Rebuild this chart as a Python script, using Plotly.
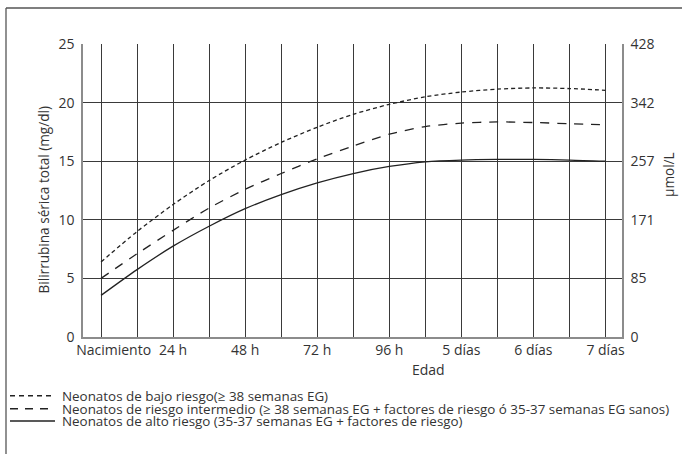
import plotly.graph_objects as go

# Age in hours after birth
hours = [0, 12, 24, 36, 48, 60, 72, 84, 96, 108, 120, 132, 144, 156, 168]

# Total serum bilirubin thresholds (mg/dl)
low_risk = [6.4, 9.0, 11.3, 13.35, 15.1, 16.6, 17.9, 19.0, 19.85, 20.5, 20.9, 21.15, 21.25, 21.2, 21.05]
medium_risk = [5.0, 7.1, 9.1, 11.0, 12.6, 13.95, 15.2, 16.3, 17.3, 17.95, 18.25, 18.35, 18.3, 18.2, 18.1]
high_risk = [3.55, 5.75, 7.75, 9.45, 10.95, 12.15, 13.15, 13.95, 14.55, 14.95, 15.1, 15.15, 15.15, 15.1, 15.0]

legend_labels = [
    "Neonatos de bajo riesgo(≥ 38 semanas EG)",
    "Neonatos de riesgo intermedio (≥ 38 semanas EG + factores de riesgo ó 35-37 semanas EG sanos)",
    "Neonatos de alto riesgo (35-37 semanas EG + factores de riesgo)",
]

x_tick_vals = [4.2, 24, 48, 72, 96, 120, 144, 168]
x_tick_text = ["Nacimiento", "24 h", "48 h", "72 h", "96 h", "5 días", "6 días", "7 días"]
y_tick_vals = [0, 5, 10, 15, 20, 25]
umol_tick_text = ["0", "85", "171", "257", "342", "428"]

W, H = 682, 454
ML, MR, MT, MB = 83, 60, 44, 117
PW, PH = W - ML - MR, H - MT - MB

FONT = "Open Sans"
TXT = "#333333"
GRID = "#3a3a3a"
AXIS = "#8c8c8c"
CURVE = "#222222"


def px(xp):
    return (xp - ML) / PW


def py(yp):
    return (H - MB - yp) / PH


fig = go.Figure()
styles = [("4px,3px", low_risk), ("9px,8px", medium_risk), ("solid", high_risk)]
for (dash, vals), name in zip(styles, legend_labels):
    fig.add_trace(go.Scatter(
        x=hours, y=vals, mode="lines", name=name, showlegend=False,
        line=dict(color=CURVE, width=1.3, dash=dash, shape="spline", smoothing=0.8),
    ))

# invisible trace to activate the secondary axes
fig.add_trace(go.Scatter(x=[hours[0]], y=[0], xaxis="x2", yaxis="y2",
                         mode="markers", marker=dict(opacity=0), showlegend=False, hoverinfo="skip"))

fig.update_layout(
    width=W, height=H,
    margin=dict(l=ML, r=MR, t=MT, b=MB),
    paper_bgcolor="white", plot_bgcolor="white",
    font=dict(family=FONT, color=TXT, size=14),
    xaxis=dict(range=[-6, 173.5], tick0=0, dtick=12, showticklabels=False, ticks="",
               showgrid=True, gridcolor=GRID, gridwidth=1, zeroline=False,
               showline=True, linecolor=AXIS, linewidth=1.5),
    xaxis2=dict(range=[-6, 173.5], overlaying="x", side="bottom", tickmode="array",
                tickvals=x_tick_vals, ticktext=x_tick_text, ticks="", showgrid=False,
                zeroline=False, showline=False, ticklabelstandoff=3,
                tickfont=dict(size=14, color=TXT)),
    yaxis=dict(range=[0, 25], tickmode="array", tickvals=y_tick_vals, ticks="",
               showgrid=True, gridcolor=GRID, gridwidth=1, zeroline=False,
               showline=True, linecolor=AXIS, linewidth=1.5, ticklabelstandoff=4,
               tickfont=dict(size=14, color=TXT)),
    yaxis2=dict(range=[0, 25], overlaying="y", side="right", tickmode="array",
                tickvals=y_tick_vals, ticktext=umol_tick_text, ticks="", showgrid=False,
                zeroline=False, showline=True, linecolor=AXIS, linewidth=1.5,
                ticklabelstandoff=4, tickfont=dict(size=14, color=TXT)),
)

annotations = [
    dict(text="Edad", x=px(428), y=py(370), xanchor="center", yanchor="middle",
         font=dict(size=14)),
    dict(text="Bilirrubina sérica total (mg/dl)", x=px(43), y=py(199.5), textangle=-90,
         xanchor="center", yanchor="middle", font=dict(size=13.6)),
    dict(text="µmol/L", x=px(668), y=py(175), textangle=-90,
         xanchor="center", yanchor="middle", font=dict(size=13.6)),
]
shapes = [
    # outer frame (left and top edges)
    dict(type="line", xref="paper", yref="paper", x0=px(6), x1=px(6), y0=py(460), y1=py(8),
         line=dict(color="#555555", width=1.3)),
    dict(type="line", xref="paper", yref="paper", x0=px(6), x1=px(690), y0=py(8), y1=py(8),
         line=dict(color="#555555", width=1.3)),
]

legend_rows = [395.7, 408.7, 421.0]
legend_dash = ["5px,4px", "8px,7px", "solid"]
for row, dash, label in zip(legend_rows, legend_dash, legend_labels):
    shapes.append(dict(type="line", xref="paper", yref="paper", x0=px(10), x1=px(55),
                       y0=py(row), y1=py(row), line=dict(color=CURVE, width=1.5, dash=dash)))
    annotations.append(dict(text=label, x=px(61), y=py(row), xanchor="left", yanchor="middle",
                            borderpad=0, font=dict(size=13.4)))

for a in annotations:
    a.update(xref="paper", yref="paper", showarrow=False)
fig.update_layout(annotations=annotations, shapes=shapes)

fig.write_html("out.html")
